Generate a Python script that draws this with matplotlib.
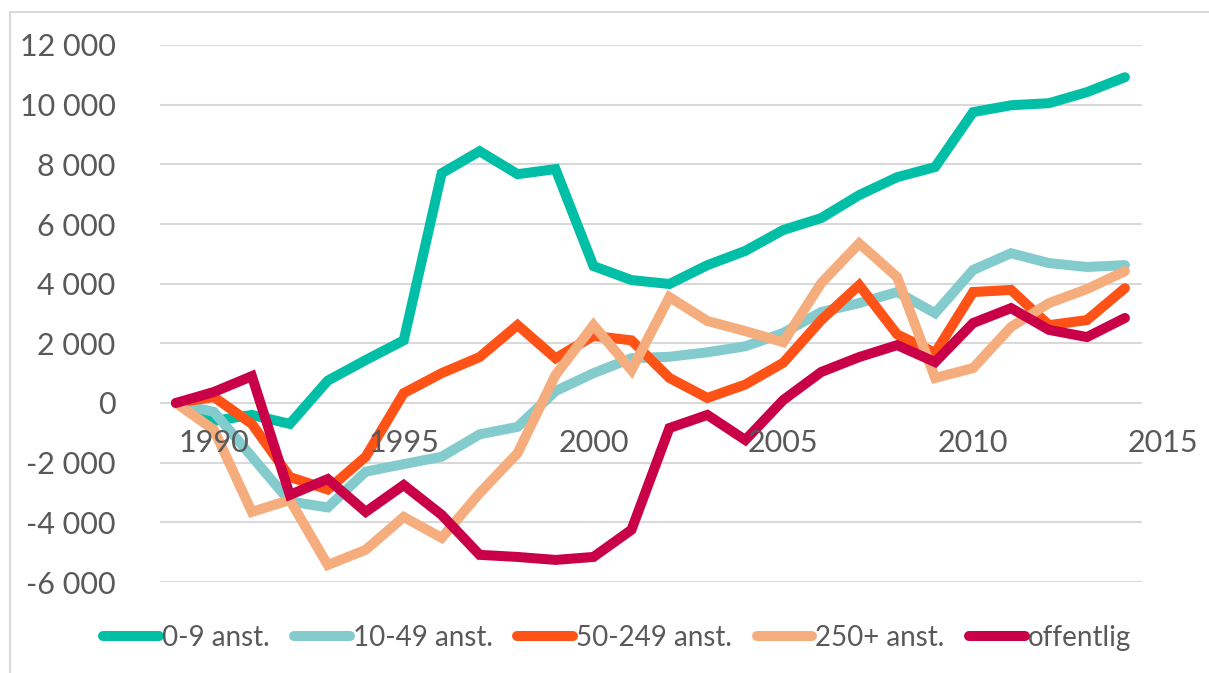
import matplotlib.pyplot as plt
from matplotlib.patches import Rectangle

# data
years = list(range(1989, 2015))
ans_0_9 = [0, -600, -400, -700, 750, 1440, 2100, 7700, 8440, 7670, 7840, 4590, 4120, 3990,
           4620, 5100, 5800, 6200, 6970, 7570, 7910, 9750, 9980, 10050, 10420, 10920]
ans_10_49 = [0, -300, -1800, -3300, -3500, -2300, -2050, -1800, -1050, -800, 400, 1000,
             1500, 1550, 1700, 1900, 2350, 3050, 3350, 3720, 3010, 4460, 5020, 4690, 4560, 4620]
ans_50_249 = [0, 200, -700, -2480, -2900, -1800, 330, 1000, 1540, 2610, 1500, 2250, 2100,
              840, 170, 620, 1350, 2780, 3950, 2300, 1680, 3720, 3790, 2610, 2780, 3850]
ans_250 = [0, -900, -3650, -3250, -5430, -4920, -3820, -4520, -3020, -1680, 940, 2610,
           1100, 3550, 2750, 2410, 2040, 4020, 5350, 4220, 840, 1170, 2550, 3350, 3820, 4420]
offentlig = [0, 370, 900, -3080, -2550, -3650, -2750, -3750, -5090, -5160, -5260, -5160,
             -4250, -840, -400, -1240, 100, 1040, 1540, 1940, 1370, 2680, 3180, 2450, 2210, 2850]

series = [
    ("0-9 anst.", ans_0_9, "#00BFA6"),
    ("10-49 anst.", ans_10_49, "#83CBCC"),
    ("50-249 anst.", ans_50_249, "#FF5216"),
    ("250+ anst.", ans_250, "#F5AD7E"),
    ("offentlig", offentlig, "#C90047"),
]
xlabels = [1990, 1995, 2000, 2005, 2010, 2015]

plt.rcParams["font.family"] = ["Lato", "DejaVu Sans"]
W, H = 1209, 673
fig = plt.figure(figsize=(W / 100, H / 100), dpi=100)
ax = fig.add_axes([160 / W, (H - 582) / H, (1142 - 160) / W, (582 - 45) / H])

for name, vals, col in series:
    ax.plot(years, vals, color=col, lw=7.2, label=name, solid_capstyle="round",
            solid_joinstyle="miter", clip_on=False)

ax.set_xlim(1988.58, 2014.45)
ax.set_ylim(-6000, 12000)
ax.set_yticks(range(-6000, 12001, 2000))
ax.set_yticklabels([f"{v:,}".replace(",", " ") for v in range(-6000, 12001, 2000)])
ax.grid(True, axis="y", color="#D9D9D9", lw=1.5)
ax.set_axisbelow(True)
for s in ax.spines.values():
    s.set_visible(False)
ax.tick_params(axis="y", length=0, pad=32, labelsize=22, labelcolor="#595959")
ax.set_xticks([])

for yr in xlabels:
    ax.annotate(str(yr), (yr, 0), xytext=(0, -40 * 0.72), textcoords="offset points",
                ha="center", va="center", fontsize=22, color="#595959", annotation_clip=False)

leg = fig.legend(loc="center", bbox_to_anchor=(617 / W, 1 - 638 / H), ncol=5, frameon=False,
                 fontsize=20, handlelength=2.0, handletextpad=0.1, columnspacing=0.9,
                 labelcolor="#595959")

# frame
fig.patches.append(Rectangle((10 / W, -0.1), 1.2, (H - 12) / H + 0.1, transform=fig.transFigure,
                             fill=False, edgecolor="#D9D9D9", lw=1.5))

fig.savefig("out.png", dpi=100)
